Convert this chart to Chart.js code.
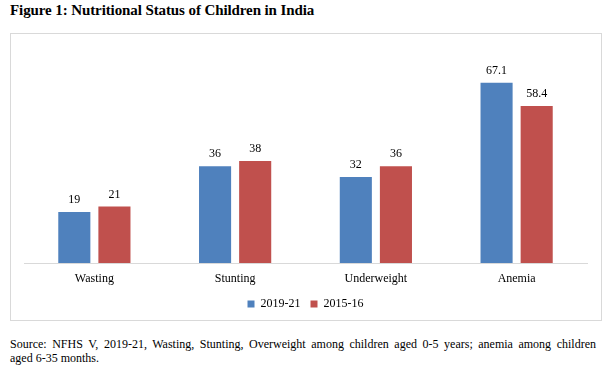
<!DOCTYPE html>
<html>
<head>
<meta charset="utf-8">
<script src="https://cdn.jsdelivr.net/npm/chart.js@4"></script>
<style>
  html, body { margin: 0; padding: 0; background: #fff; }
  body { width: 615px; height: 374px; position: relative; overflow: hidden; }
  #title { position: absolute; left: 10px; top: 2px; font: bold 15px "Liberation Serif", serif; color: #000; letter-spacing: -0.1px; white-space: nowrap; }
  #box { position: absolute; left: 10px; top: 33px; width: 590px; height: 286px; border: 1px solid #d9d9d9; }
  #wrap { position: absolute; left: 0; top: 0; width: 590px; height: 286px; }
  .src { position: absolute; left: 10px; width: 586px; font: 12px "Liberation Serif", serif; line-height: 14px; color: #000; white-space: nowrap; }
  #src1 { top: 337px; text-align: justify; text-align-last: justify; white-space: normal; }
  #src2 { top: 351px; }
</style>
</head>
<body>
<div id="title">Figure 1: Nutritional Status of Children in India</div>
<div id="box"><div id="wrap"><canvas id="c"></canvas></div></div>
<div class="src" id="src1">Source: NFHS V, 2019-21, Wasting, Stunting, Overweight among children aged 0-5 years; anemia among children</div>
<div class="src" id="src2">aged 6-35 months.</div>
<script>
const categories = ["Wasting", "Stunting", "Underweight", "Anemia"];
const series2019 = [19, 36, 32, 67.1];
const series2015 = [21, 38, 36, 58.4];
const seriesLabels = ["2019-21", "2015-16"];
const yMin = 0;
const yMax = 80;

const FONT = "'Liberation Serif', 'Times New Roman', serif";

const valueLabels = {
  id: 'valueLabels',
  afterDatasetsDraw(chart) {
    const ctx = chart.ctx;
    ctx.save();
    ctx.font = "12px " + FONT;
    ctx.fillStyle = "#000";
    ctx.textAlign = "center";
    ctx.textBaseline = "alphabetic";
    chart.data.datasets.forEach((ds, di) => {
      const meta = chart.getDatasetMeta(di);
      meta.data.forEach((el, i) => {
        ctx.fillText(String(ds.data[i]), el.x, el.y - 9);
      });
    });
    ctx.restore();
  }
};

new Chart(document.getElementById('c'), {
  type: 'bar',
  data: {
    labels: categories,
    datasets: [
      { label: seriesLabels[0], data: series2019, backgroundColor: '#4F81BD', categoryPercentage: 0.57, barPercentage: 0.8 },
      { label: seriesLabels[1], data: series2015, backgroundColor: '#C0504D', categoryPercentage: 0.57, barPercentage: 0.8 }
    ]
  },
  options: {
    responsive: true,
    maintainAspectRatio: false,
    animation: false,
    layout: { padding: { left: 13, right: 14, top: 14, bottom: 0 } },
    plugins: {
      legend: {
        position: 'bottom',
        labels: {
          boxWidth: 7, boxHeight: 7, padding: 10,
          color: '#000',
          font: { family: FONT, size: 12 }
        }
      },
      tooltip: { enabled: false },
      title: { display: false }
    },
    scales: {
      x: {
        grid: { display: false, drawTicks: false },
        border: { display: true, color: '#d9d9d9', width: 1 },
        ticks: { color: '#000', padding: 9, font: { family: FONT, size: 12 } },
        afterFit(scale) { scale.height = 25; }
      },
      y: {
        display: false,
        min: yMin, max: yMax,
        grid: { display: false }
      }
    }
  },
  plugins: [valueLabels]
});
</script>
</body>
</html>
